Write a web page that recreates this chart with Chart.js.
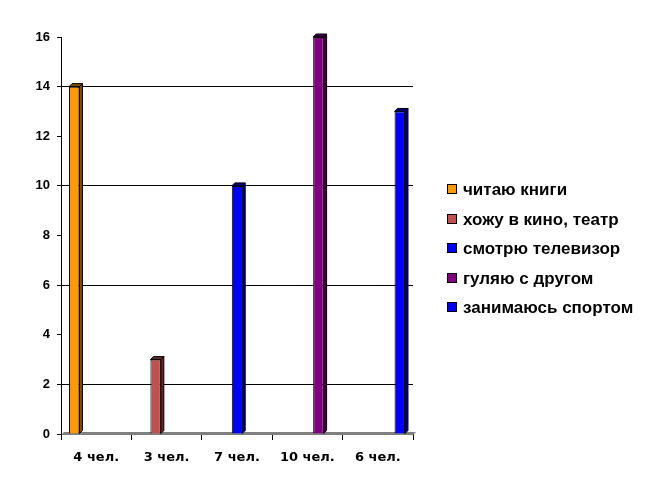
<!DOCTYPE html>
<html>
<head>
<meta charset="utf-8">
<script src="https://cdn.jsdelivr.net/npm/chart.js@4"></script>
<style>
  html, body { margin: 0; padding: 0; background: #fff; }
  #wrap { position: relative; width: 649px; height: 495px; }
  #chart { display: block; }
  #legend {
    position: absolute; left: 447px; top: 178px;
    font: bold 17px 'Liberation Sans', Arial, sans-serif; color: #000;
  }
  #legend div { height: 29.5px; line-height: 24px; white-space: nowrap; }
  #legend span.box {
    display: inline-block; width: 8px; height: 8px; border: 1px solid #000;
    margin-right: 6px; vertical-align: 1px;
  }
</style>
</head>
<body>
<div id="wrap">
  <canvas id="chart" width="649" height="495"></canvas>
  <div id="legend"></div>
</div>
<script>

// data
const categories = ["4 чел.", "3 чел.", "7 чел.", "10 чел.", "6 чел."];
const seriesNames = ["читаю книги", "хожу в кино, театр", "смотрю телевизор", "гуляю с другом", "занимаюсь спортом"];
const readBooks  = [14, null, null, null, null];
const goCinema   = [null, 3, null, null, null];
const watchTv    = [null, null, 10, null, null];
const walkFriend = [null, null, null, 16, null];
const doSport    = [null, null, null, null, 13];
const yTicks = [0, 2, 4, 6, 8, 10, 12, 14, 16];

const seriesValues = [readBooks, goCinema, watchTv, walkFriend, doSport];
const faceColors = ["#FF9900", "#C0504D", "#0000FF", "#800080", "#0000FF"];
const sideColors = ["#7F4C00", "#602826", "#00007F", "#400040", "#00007F"];

const xFont = { family: "'DejaVu Sans', sans-serif", weight: "bold", size: 13 };
const yFont = { family: "'Liberation Sans', Arial, sans-serif", weight: "bold", size: 13 };
const DEPTH = 3;

// ✅ 3D look: floor + side/top faces of bars
const fakeDepth = {
    id: 'fakeDepth',
    beforeDatasetsDraw(chart) {
        const ctx = chart.ctx;
        const area = chart.chartArea;
        const y0 = chart.scales.y.getPixelForValue(0);
        ctx.save();
        ctx.fillStyle = "#808080";
        ctx.beginPath();
        ctx.moveTo(area.left, y0 + 1);
        ctx.lineTo(area.left + DEPTH, y0 - DEPTH + 1);
        ctx.lineTo(area.right + DEPTH, y0 - DEPTH + 1);
        ctx.lineTo(area.right, y0 + 1);
        ctx.closePath();
        ctx.fill();
        ctx.restore();
    },
    afterDatasetsDraw(chart) {
        const ctx = chart.ctx;
        ctx.save();
        ctx.strokeStyle = "#000";
        ctx.lineWidth = 1;
        chart.data.datasets.forEach((ds, i) => {
            const meta = chart.getDatasetMeta(i);
            meta.data.forEach((bar, j) => {
                if (ds.data[j] == null) return;
                const w = bar.width;
                const l = bar.x - w / 2, r = bar.x + w / 2;
                const top = bar.y, base = bar.base;
                ctx.fillStyle = sideColors[i];
                ctx.beginPath();
                ctx.moveTo(r, top);
                ctx.lineTo(r + DEPTH, top - DEPTH);
                ctx.lineTo(r + DEPTH, base - DEPTH);
                ctx.lineTo(r, base);
                ctx.closePath();
                ctx.fill();
                ctx.stroke();
                ctx.beginPath();
                ctx.moveTo(l, top);
                ctx.lineTo(l + DEPTH, top - DEPTH);
                ctx.lineTo(r + DEPTH, top - DEPTH);
                ctx.lineTo(r, top);
                ctx.closePath();
                ctx.fill();
                ctx.stroke();
            });
        });
        ctx.restore();
    }
};

// ✅ LEGEND (html, built from the series)
document.getElementById('legend').innerHTML = seriesNames.map((name, i) =>
    `<div><span class="box" style="background:${faceColors[i]}"></span>${name}</div>`
).join('');

new Chart(document.getElementById('chart'), {
    type: 'bar',
    data: {
        labels: categories,
        datasets: seriesNames.map((name, i) => ({
            label: name,
            data: seriesValues[i],
            backgroundColor: faceColors[i],
            borderColor: "#000",
            borderWidth: 1,
            categoryPercentage: 0.78,
            barPercentage: 0.95
        }))
    },
    options: {
        responsive: false,
        animation: false,
        layout: { padding: { top: 37, bottom: 0, left: 0, right: 236 } },
        plugins: {
            tooltip: { enabled: false },
            legend: { display: false }
        },
        scales: {
            x: {
                afterFit: axis => { axis.height = 61; },
                grid: {
                    offset: true,
                    drawOnChartArea: false,
                    drawTicks: true,
                    tickLength: 6,
                    tickColor: "#000"
                },
                border: { color: "#000", width: 1 },
                ticks: { color: "#000", font: xFont, padding: 10 }
            },
            y: {
                min: 0,
                max: 16,
                afterFit: axis => { axis.width = 61; },
                afterBuildTicks: axis => { axis.ticks = yTicks.map(v => ({ value: v })); },
                grid: {
                    color: c => (c.tick && c.tick.value % 4 === 2) ? "#000" : "rgba(0,0,0,0)",
                    tickColor: "#000",
                    tickLength: 4
                },
                border: { color: "#000", width: 1 },
                ticks: { color: "#000", font: yFont, padding: 7 }
            }
        }
    },
    plugins: [fakeDepth]
});
</script>
</body>
</html>
